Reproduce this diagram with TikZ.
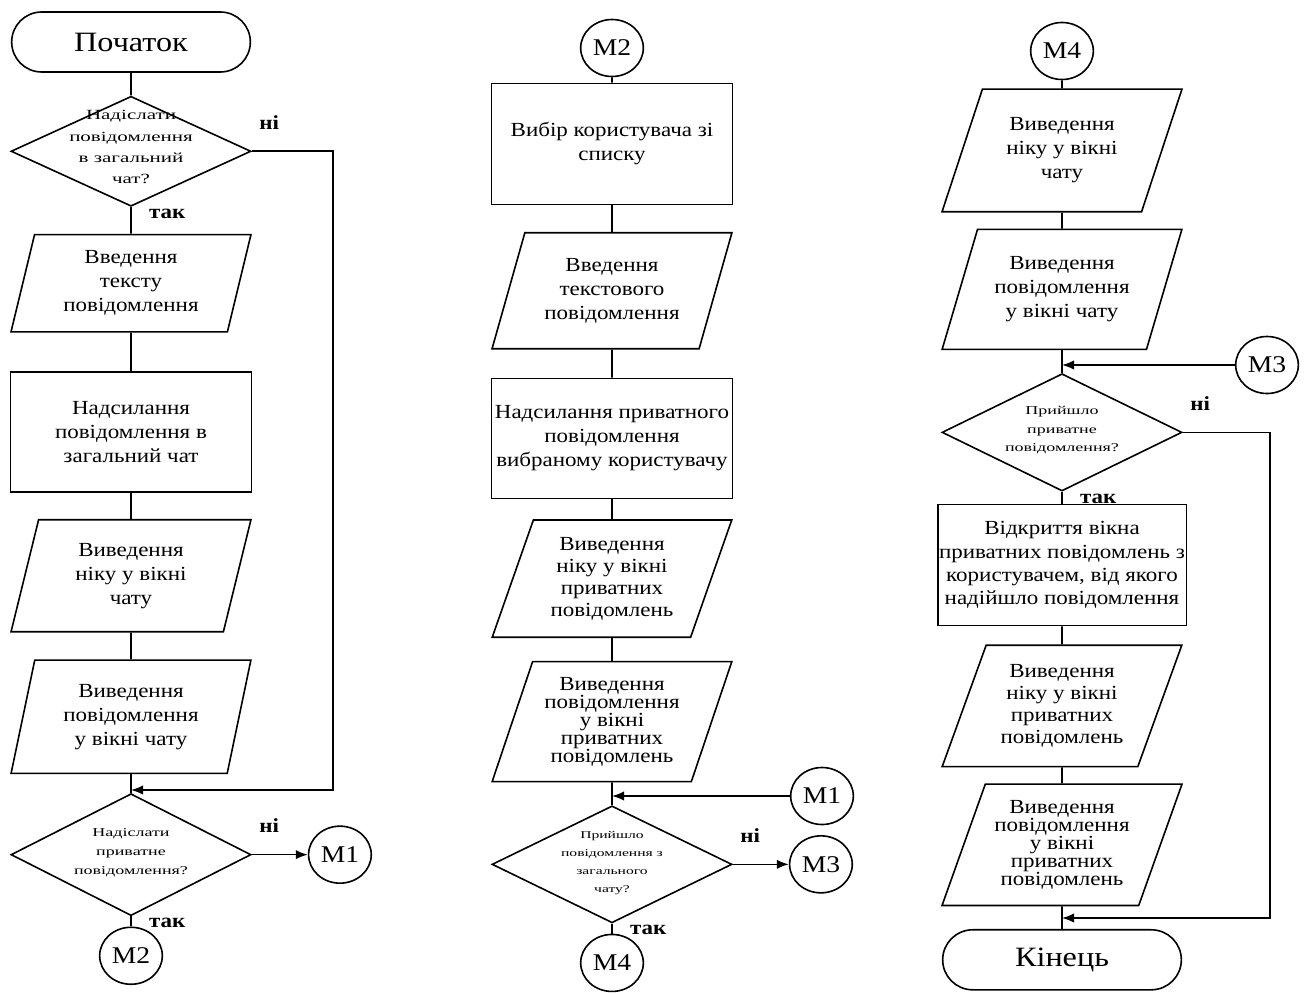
\documentclass[tikz,border=0pt]{standalone}
\usepackage{fontspec}
\setmainfont{Liberation Serif}[FakeStretch=1.15]
\newfontfamily\decfont{Liberation Serif}[FakeStretch=1.5]
\usepackage{tikz}
\usetikzlibrary{arrows.meta,positioning,shapes}

% text inside the diamonds must not grow them
\newcommand{\dtext}[1]{\smash{\begin{tabular}{@{}c@{}}#1\end{tabular}}}

\begin{document}
\begin{tikzpicture}[x=0.75pt,y=-0.75pt,
  line/.style={line width=1.2pt},
  flow/.style={line width=1.2pt,-{Latex[length=9pt,width=7pt]}}
]
\useasboundingbox (0,0) rectangle (1306,993);

\tikzstyle{box}=[draw,line width=1.2pt,align=center,inner sep=1pt,font=\fontsize{15}{18}\selectfont]
\tikzstyle{term}=[box,rounded rectangle,minimum width=181pt,minimum height=45pt,font=\fontsize{21}{21}\selectfont]
\tikzstyle{proc}=[box,rectangle,minimum width=181pt,minimum height=90pt]
\tikzstyle{decision}=[box,diamond,aspect=2,minimum width=180pt,minimum height=88pt,inner sep=0pt,font=\decfont\fontsize{9}{14}\selectfont]
\tikzstyle{conn}=[box,ellipse,minimum width=47pt,minimum height=42.75pt,inner sep=0pt,font=\fontsize{18}{18}\selectfont]
\tikzstyle{yeslbl}=[anchor=west,inner sep=0pt,xshift=13pt,yshift=-5pt,font=\fontsize{15}{15}\bfseries]
\tikzstyle{nolbl}=[anchor=south west,inner sep=0pt,xshift=5pt,yshift=16pt,font=\fontsize{15}{15}\bfseries]
\tikzset{io/.style={box,trapezium,trapezium left angle=#1,trapezium right angle=\the\numexpr180-#1\relax,
  trapezium stretches=true,minimum width=180pt,minimum height=90pt}}

% column 1
\node[term] (s1) at (131,42) {Початок};
\node[decision,below=17pt of s1,minimum height=82.5pt,font=\decfont\fontsize{10.5}{16}\selectfont] (d1)
  {\dtext{Надіслати\\повідомлення\\в загальний\\чат?}};
\node[io=76,below=20pt of d1,minimum height=73pt] (p1) {Введення\\тексту\\повідомлення};
\node[proc,below=29pt of p1] (r1) {Надсилання\\повідомлення в\\загальний чат};
\node[io=76,below=19.5pt of r1,minimum height=84pt] (p2) {Виведення\\ніку у вікні\\чату};
\node[io=76,below=20pt of p2,minimum height=85pt] (p3) {Виведення\\повідомлення\\у вікні чату};
\node[decision,below=14pt of p3,minimum height=91.5pt] (d2) {\dtext{Надіслати\\приватне\\повідомлення?}};
\node[conn,below=7.5pt of d2] (m2a) {М2};
\node[conn,right=42pt of d2] (m1a) {М1};
\coordinate (c1) at (333,790);

% column 2
\node[conn] (m2b) at (612,48) {М2};
\node[proc,below=4pt of m2b,minimum height=90.75pt] (r2) {Вибір користувача зі\\списку};
\node[io=69,below=20pt of r2,minimum height=87pt] (p4) {Введення\\текстового\\повідомлення};
\node[proc,below=21pt of p4] (r3) {Надсилання приватного\\повідомлення\\вибраному користувачу};
\node[io=69,below=15pt of r3,minimum height=88pt,font=\fontsize{15}{16.5}\selectfont] (p5)
  {Виведення\\ніку у вікні\\приватних\\повідомлень};
\node[io=69,below=17pt of p5,minimum height=90pt,font=\fontsize{15}{13.5}\selectfont] (p6)
  {Виведення\\повідомлення\\у вікні\\приватних\\повідомлень};
\node[decision,below=17pt of p6,minimum height=87.75pt,font=\decfont\fontsize{7.8}{13.5}\selectfont] (d3)
  {\dtext{Прийшло\\повідомлення з\\загального\\чату?}};
\node[conn,below=7.5pt of d3] (m4b) {М4};
\node[conn,right=42pt of d3] (m3a) {М3};
\node[conn] (m1b) at (822,796) {М1};

% column 3
\node[conn] (m4a) at (1062,51) {М4};
\node[io=67,below=6pt of m4a,minimum height=92pt] (p7) {Виведення\\ніку у вікні\\чату};
\node[io=67,below=12pt of p7] (p8) {Виведення\\повідомлення\\у вікні чату};
\node[decision,below=17pt of p8] (d4) {\dtext{Прийшло\\приватне\\повідомлення?}};
\node[proc,below=9pt of d4,minimum height=90.75pt,font=\fontsize{15}{17.5}\selectfont] (r4)
  {Відкриття вікна\\приватних повідомлень з\\користувачем, від якого\\надійшло повідомлення};
\node[io=67,below=13.5pt of r4,minimum height=91pt,font=\fontsize{15}{16.5}\selectfont] (p9)
  {Виведення\\ніку у вікні\\приватних\\повідомлень};
\node[io=67,below=12pt of p9,minimum height=91pt,font=\fontsize{15}{13.5}\selectfont] (p10)
  {Виведення\\повідомлення\\у вікні\\приватних\\повідомлень};
\node[term,below=17pt of p10] (e1) {Кінець};
\node[conn] (m3b) at (1267,365) {М3};
\coordinate (c3) at (1270,918);

\draw[line] (s1) -- (d1);
\draw[line] (d1.south) node[yeslbl]{так} -- (p1);
\draw[line] (p1) -- (r1) (r1) -- (p2) (p2) -- (p3) (p3) -- (d2);
\draw[line] (d2.south) node[yeslbl]{так} -- (m2a);
\draw[flow] (d2.east) node[nolbl]{ні} -- (m1a);
\draw[flow] (d1.east) node[nolbl]{ні} -| (c1) -- (p3.south |- c1);

\draw[line] (m2b) -- (r2) (r2) -- (p4) (p4) -- (r3) (r3) -- (p5) (p5) -- (p6) (p6) -- (d3);
\draw[line] (d3.south) node[yeslbl]{так} -- (m4b);
\draw[flow] (d3.east) node[nolbl]{ні} -- (m3a);
\draw[flow] (m1b) -- (p6.south |- m1b);

\draw[line] (m4a) -- (p7) (p7) -- (p8) (p8) -- (d4);
\draw[line] (d4.south) node[yeslbl]{так} -- (r4);
\draw[line] (r4) -- (p9) (p9) -- (p10) (p10) -- (e1);
\draw[flow] (m3b) -- (p8.south |- m3b);
\draw[flow] (d4.east) node[nolbl]{ні} -| (c3) -- (p10.south |- c3);

\end{tikzpicture}
\end{document}
